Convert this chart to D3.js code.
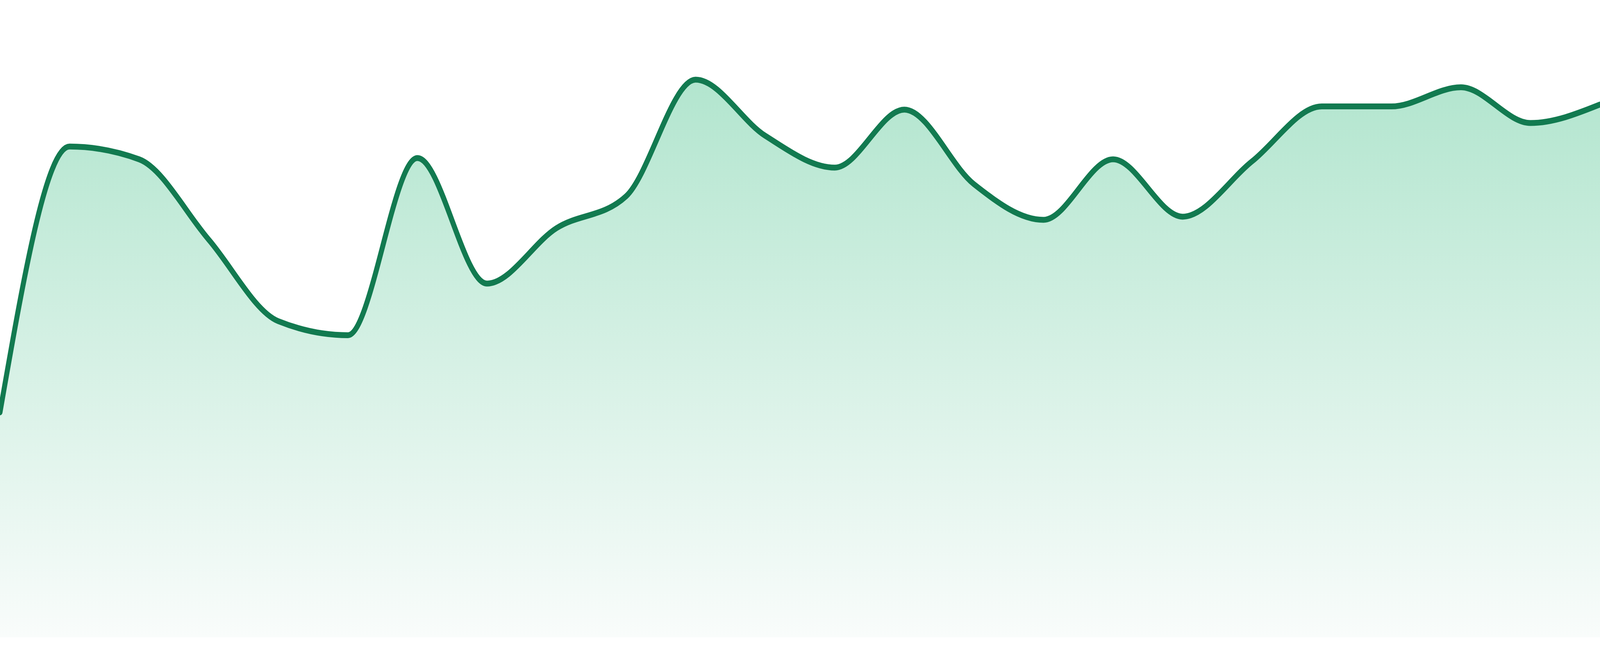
<!DOCTYPE html>
<html>
<head>
<meta charset="utf-8">
<script src="https://cdn.jsdelivr.net/npm/d3@7/dist/d3.min.js"></script>
<style>
  html, body { margin: 0; padding: 0; background: #ffffff; overflow: hidden; width: 100%; height: 100%; }
  svg { display: block; width: 100vw; height: 100vh; }
</style>
</head>
<body>
<svg id="chart" viewBox="0 0 4800 1680" preserveAspectRatio="none"></svg>
<script>
// ---- data ----
const categories = ["1","2","3","4","5","6","7","8","9","10","11","12",
                    "13","14","15","16","17","18","19","20","21","22","23","24"];
const values = [35.3, 77.0, 75.0, 62.4, 49.6, 47.4, 75.2, 55.5, 64.2, 69.2, 87.5, 78.7,
                73.7, 82.8, 71.1, 65.5, 75.0, 66.0, 74.7, 83.3, 83.3, 86.3, 80.7, 83.6];
const yDomain = [0, 100];

// ---- layout (viewBox units = screenshot pixels) ----
const W = 4800, H = 1680;
const baseline = 1632;

const svg = d3.select("#chart");
const x = d3.scalePoint().domain(categories).range([0, W]);
const y = d3.scaleLinear().domain(yDomain).range([baseline, 0]);

const data = categories.map((c, i) => ({ c, v: values[i] }));

const defs = svg.append("defs");
const grad = defs.append("linearGradient")
  .attr("id", "fillGrad")
  .attr("gradientUnits", "userSpaceOnUse")
  .attr("x1", 0).attr("y1", 0).attr("x2", 0).attr("y2", baseline);
grad.append("stop").attr("offset", "0%").attr("stop-color", "#a8e2c8");
grad.append("stop").attr("offset", "100%").attr("stop-color", "#f9fcfb");

const area = d3.area()
  .x(d => x(d.c))
  .y0(y(yDomain[0]))
  .y1(d => y(d.v))
  .curve(d3.curveMonotoneX);

const line = d3.line()
  .x(d => x(d.c))
  .y(d => y(d.v))
  .curve(d3.curveMonotoneX);

svg.append("path")
  .datum(data)
  .attr("d", area)
  .attr("fill", "url(#fillGrad)");

svg.append("path")
  .datum(data)
  .attr("d", line)
  .attr("fill", "none")
  .attr("stroke", "#127a50")
  .attr("stroke-width", 15)
  .attr("stroke-linejoin", "round")
  .attr("stroke-linecap", "round");
</script>
</body>
</html>
